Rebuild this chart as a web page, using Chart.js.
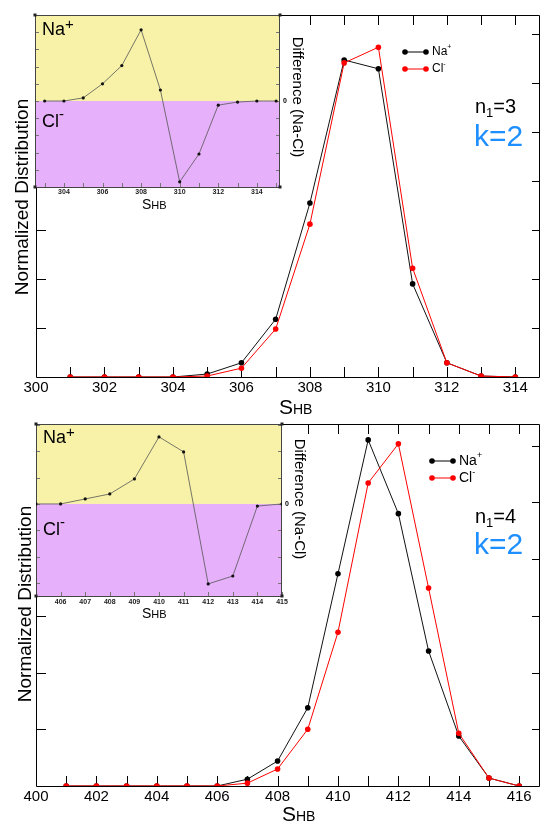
<!DOCTYPE html>
<html lang="en">
<head>
<meta charset="utf-8" />
<title>S_HB distributions, Na+ / Cl-</title>
<style>
  body { margin: 0; background: #fff; }
  #wrap { position: relative; width: 544px; height: 822px; overflow: hidden; }
  #wrap canvas { position: absolute; left: 0; }
</style>
</head>
<body>

<div id="wrap">
  <canvas id="mainTop" width="544" height="420" style="top:0px"></canvas>
  <canvas id="insetTop" width="320" height="215" style="top:0px"></canvas>
  <canvas id="mainBot" width="544" height="402" style="top:420px"></canvas>
  <canvas id="insetBot" width="320" height="205" style="top:420px"></canvas>
</div>

<script src="https://cdn.jsdelivr.net/npm/chart.js"></script>
<script>
// ---- data, panel 1 (n1=3) ----
var sTop = [301, 302, 303, 304, 305, 306, 307, 308, 309, 310, 311, 312, 313, 314];
var naTop = [0, 0, 0, 0, 0.003, 0.0145, 0.059, 0.1775, 0.3235, 0.3145, 0.095, 0.0145, 0.001, 0];
var clTop = [0, 0, 0, 0, 0.001, 0.009, 0.049, 0.156, 0.3205, 0.3365, 0.111, 0.0145, 0.001, 0];
var xLabelsTop = [300, 302, 304, 306, 308, 310, 312, 314];
var yTicksTop = [0.05, 0.10, 0.15, 0.20, 0.25, 0.30, 0.35];

var diffSTop = [303, 304, 305, 306, 307, 308, 309, 310, 311, 312, 313, 314, 315];
var diffTop = [0, 0, 0.0009, 0.005, 0.0103, 0.0207, 0.0032, -0.0235, -0.0154, -0.0012, -0.0003, 0, 0];
var diffLabelsTop = [304, 306, 308, 310, 312, 314];
var diffTicksTop = [-0.02, -0.015, -0.01, -0.005, 0, 0.005, 0.01, 0.015, 0.02];

// ---- data, panel 2 (n1=4) ----
var sBot = [401, 402, 403, 404, 405, 406, 407, 408, 409, 410, 411, 412, 413, 414, 415, 416];
var naBot = [0, 0, 0, 0, 0, 0, 0.006, 0.022, 0.069, 0.187, 0.305, 0.240, 0.119, 0.044, 0.007, 0];
var clBot = [0, 0, 0, 0, 0, 0, 0.0025, 0.015, 0.050, 0.1355, 0.267, 0.3015, 0.1745, 0.0465, 0.007, 0];
var xLabelsBot = [400, 402, 404, 406, 408, 410, 412, 414, 416];
var yTicksBot = [0.05, 0.10, 0.15, 0.20, 0.25, 0.30];

var diffSBot = [405, 406, 407, 408, 409, 410, 411, 412, 413, 414, 415];
var diffBot = [0, 0, 0.0038, 0.0076, 0.019, 0.051, 0.0396, -0.0608, -0.0548, -0.0016, 0];
var diffLabelsBot = [406, 407, 408, 409, 410, 411, 412, 413, 414, 415];
var diffTicksBot = [-0.06, -0.04, -0.02, 0, 0.02, 0.04, 0.06];

var FONT = '"Liberation Sans", Arial, Helvetica, sans-serif';
Chart.defaults.font.family = FONT;

// draw a run of text pieces: [text, size, dy, color]
function rich(ctx, x, y, parts) {
    parts.forEach(function (p) {
        ctx.font = p[1] + 'px ' + FONT;
        ctx.fillStyle = p[3] || '#000';
        ctx.fillText(p[0], x, y + (p[2] || 0));
        x += ctx.measureText(p[0]).width;
    });
}

function pts(xs, ys) {
    return xs.map(function (x, i) { return { x: x, y: ys[i] }; });
}

function mainChart(id, c) {
    var deco = {
        id: 'deco',
        beforeDatasetsDraw: function (chart) {
            var ctx = chart.ctx, a = chart.chartArea, xs = chart.scales.x, ys = chart.scales.y;
            ctx.save();
            ctx.strokeStyle = '#000';
            ctx.lineWidth = 1;
            ctx.beginPath();
            ctx.moveTo(a.left + 0.5, a.top + 0.5); ctx.lineTo(a.right - 0.5, a.top + 0.5);
            ctx.lineTo(a.right - 0.5, a.bottom + 0.5); ctx.lineTo(a.left + 0.5, a.bottom + 0.5);
            ctx.closePath();
            xs.ticks.forEach(function (t) {
                var px = Math.round(xs.getPixelForValue(t.value)) + 0.5;
                ctx.moveTo(px, a.bottom); ctx.lineTo(px, a.bottom - 10);
                ctx.moveTo(px, a.top); ctx.lineTo(px, a.top + 10);
            });
            c.yTicks.forEach(function (v) {
                var py = Math.round(ys.getPixelForValue(v)) + 0.5;
                ctx.moveTo(a.left, py); ctx.lineTo(a.left + 10, py);
                ctx.moveTo(a.right, py); ctx.lineTo(a.right - 8, py);
            });
            ctx.stroke();
            ctx.restore();
        },
        afterDraw: function (chart) {
            var ctx = chart.ctx;
            ctx.save();
            ctx.textBaseline = 'alphabetic';
            ctx.textAlign = 'left';
            // x title
            rich(ctx, c.sX, c.sY, [['S', 21], ['HB', 14]]);
            // y title
            ctx.save();
            ctx.translate(c.yTitleX, c.yTitleY);
            ctx.rotate(-Math.PI / 2);
            ctx.textAlign = 'center';
            ctx.font = '19px ' + FONT;
            ctx.fillStyle = '#000';
            ctx.fillText('Normalized Distribution', 0, 0);
            ctx.restore();
            // legend
            var rows = [['Na', '+', '#000'], ['Cl', '-', '#ff0000']];
            rows.forEach(function (r, i) {
                var y = c.legY + i * c.legDy;
                ctx.strokeStyle = r[2];
                ctx.fillStyle = r[2];
                ctx.lineWidth = 1;
                ctx.beginPath();
                ctx.moveTo(c.legX, y); ctx.lineTo(c.legX + 21, y);
                ctx.stroke();
                [c.legX, c.legX + 21].forEach(function (px) {
                    ctx.beginPath(); ctx.arc(px, y, 2.8, 0, Math.PI * 2); ctx.fill();
                });
                ctx.textBaseline = 'middle';
                rich(ctx, c.legX + 27, y, [[r[0], c.legFont], [r[1], c.legFont - 5, -5]]);
                ctx.textBaseline = 'alphabetic';
            });
            // annotations
            rich(ctx, c.nX, c.nY, [['n', 20], ['1', 13, 4], ['=' + c.n, 20]]);
            rich(ctx, c.nX - 1, c.kY, [['k=2', 30, 0, '#1e8fff']]);
            ctx.restore();
        }
    };

    return new Chart(document.getElementById(id), {
        type: 'line',
        data: {
            datasets: [{
                label: 'Na+',
                data: pts(c.s, c.na),
                borderColor: '#111',
                backgroundColor: '#000',
                borderWidth: 1,
                pointRadius: 2.8,
                pointBorderWidth: 0,
                order: 1
            }, {
                label: 'Cl-',
                data: pts(c.s, c.cl),
                borderColor: '#ff0000',
                backgroundColor: '#ff0000',
                borderWidth: 1,
                pointRadius: 2.8,
                pointBorderWidth: 0,
                order: 0
            }]
        },
        options: {
            responsive: false,
            animation: false,
            devicePixelRatio: 1,
            layout: { padding: { top: c.top, left: 36, right: 1, bottom: 0 } },
            plugins: { legend: { display: false }, tooltip: { enabled: false } },
            scales: {
                x: {
                    type: 'linear',
                    min: c.xmin,
                    max: c.xmax,
                    grid: { display: false, drawTicks: false },
                    border: { display: false },
                    ticks: {
                        stepSize: 1,
                        includeBounds: false,
                        autoSkip: false,
                        maxRotation: 0,
                        padding: 2,
                        color: '#000',
                        font: { size: 15 },
                        callback: function (v) { return c.xLabels.indexOf(v) >= 0 ? String(v) : ''; }
                    },
                    afterFit: function (s) { s.height = c.xH; }
                },
                y: { display: false, min: 0, max: c.ymax }
            }
        },
        plugins: [deco]
    });
}

function insetChart(id, c) {
    var deco = {
        id: 'insetDeco',
        beforeDraw: function (chart) {
            var ctx = chart.ctx, a = chart.chartArea;
            var z = chart.scales.y.getPixelForValue(0);
            ctx.save();
            ctx.fillStyle = 'rgb(248,242,168)';
            ctx.fillRect(a.left, a.top, a.right - a.left, z - a.top);
            ctx.fillStyle = 'rgb(230,176,250)';
            ctx.fillRect(a.left, z, a.right - a.left, a.bottom - z);
            ctx.restore();
        },
        beforeDatasetsDraw: function (chart) {
            var ctx = chart.ctx, a = chart.chartArea, xs = chart.scales.x, ys = chart.scales.y;
            ctx.save();
            ctx.strokeStyle = '#777';
            ctx.lineWidth = 1;
            ctx.beginPath();
            xs.ticks.forEach(function (t) {
                var px = Math.round(xs.getPixelForValue(t.value)) + 0.5;
                ctx.moveTo(px, a.bottom); ctx.lineTo(px, a.bottom - 4);
            });
            c.yTicks.forEach(function (v) {
                var py = Math.round(ys.getPixelForValue(v)) + 0.5;
                ctx.moveTo(a.left, py); ctx.lineTo(a.left + 4, py);
                ctx.moveTo(a.right, py); ctx.lineTo(a.right - 4, py);
            });
            ctx.stroke();
            ctx.strokeStyle = '#444';
            ctx.strokeRect(a.left + 0.5, a.top + 0.5, a.right - a.left - 1, a.bottom - a.top);
            ctx.fillStyle = '#222';
            [[a.left, a.top], [a.right, a.top], [a.left, a.bottom], [a.right, a.bottom]].forEach(function (p) {
                ctx.fillRect(p[0] - 1.5, p[1] - 1.5, 3, 3);
            });
            ctx.restore();
        },
        afterDraw: function (chart) {
            var ctx = chart.ctx, a = chart.chartArea;
            var z = chart.scales.y.getPixelForValue(0);
            ctx.save();
            ctx.textAlign = 'left';
            ctx.textBaseline = 'alphabetic';
            rich(ctx, a.left + 7, c.naY, [['Na', 18], ['+', 15, -6]]);
            rich(ctx, a.left + 7, c.clY, [['Cl', 18], ['-', 15, -8]]);
            rich(ctx, c.sX, c.sY, [['S', 14], ['HB', 11]]);
            ctx.textBaseline = 'middle';
            ctx.font = 'bold 7px ' + FONT;
            ctx.fillStyle = '#000';
            ctx.fillText('0', a.right + 3, z);
            ctx.translate(c.difX, c.difY);
            ctx.rotate(Math.PI / 2);
            ctx.textAlign = 'center';
            ctx.textBaseline = 'alphabetic';
            ctx.font = '15px ' + FONT;
            ctx.fillText('Difference (Na-Cl)', 0, 0);
            ctx.restore();
        }
    };

    return new Chart(document.getElementById(id), {
        type: 'line',
        data: {
            datasets: [{
                label: 'Difference (Na-Cl)',
                data: pts(c.s, c.d),
                borderColor: '#555',
                backgroundColor: '#111',
                borderWidth: 0.8,
                pointRadius: 1.6,
                pointBorderWidth: 0
            }]
        },
        options: {
            responsive: false,
            animation: false,
            devicePixelRatio: 1,
            layout: { padding: { top: c.top, left: c.left, right: c.W - c.right, bottom: 0 } },
            plugins: { legend: { display: false }, tooltip: { enabled: false } },
            scales: {
                x: {
                    type: 'linear',
                    min: c.xmin,
                    max: c.xmax,
                    grid: { display: false, drawTicks: false },
                    border: { display: false },
                    ticks: {
                        stepSize: 1,
                        includeBounds: false,
                        autoSkip: false,
                        maxRotation: 0,
                        padding: c.labelPad,
                        color: '#222',
                        font: { size: 7, weight: 'bold' },
                        callback: function (v) { return c.xLabels.indexOf(v) >= 0 ? String(v) : ''; }
                    },
                    afterFit: function (s) { s.height = c.xH; }
                },
                y: { display: false, min: c.ymin, max: c.ymax }
            }
        },
        plugins: [deco]
    });
}

mainChart('mainTop', {
    s: sTop, na: naTop, cl: clTop, xLabels: xLabelsTop, yTicks: yTicksTop,
    top: 15, xmin: 300, xmax: 314.72, ymax: 0.3694, xH: 43,
    sX: 279, sY: 414, yTitleX: 28, yTitleY: 197,
    legX: 405, legY: 52, legDy: 17, legFont: 12,
    nX: 475, nY: 113, n: '3', kY: 146
});

mainChart('mainBot', {
    s: sBot, na: naBot, cl: clBot, xLabels: xLabelsBot, yTicks: yTicksBot,
    top: 4, xmin: 400, xmax: 416.69, ymax: 0.319, xH: 36,
    sX: 282, sY: 401, yTitleX: 31, yTitleY: 184,
    legX: 432, legY: 41, legDy: 17, legFont: 14,
    nX: 475, nY: 103, n: '4', kY: 134
});

insetChart('insetTop', {
    s: diffSTop, d: diffTop, xLabels: diffLabelsTop, yTicks: diffTicksTop,
    xmin: 302.5, xmax: 315.2, ymin: -0.025, ymax: 0.025,
    top: 15, left: 35, right: 280, W: 320, xH: 28, labelPad: 1,
    naY: 35, clY: 127, sX: 142, sY: 209, difX: 293, difY: 97
});

insetChart('insetBot', {
    s: diffSBot, d: diffBot, xLabels: diffLabelsBot, yTicks: diffTicksBot,
    xmin: 405, xmax: 415, ymin: -0.07, ymax: 0.0608,
    top: 4, left: 36, right: 282, W: 320, xH: 29, labelPad: 2,
    naY: 23, clY: 115, sX: 142, sY: 198, difX: 295, difY: 79
});
</script>

</body>
</html>
